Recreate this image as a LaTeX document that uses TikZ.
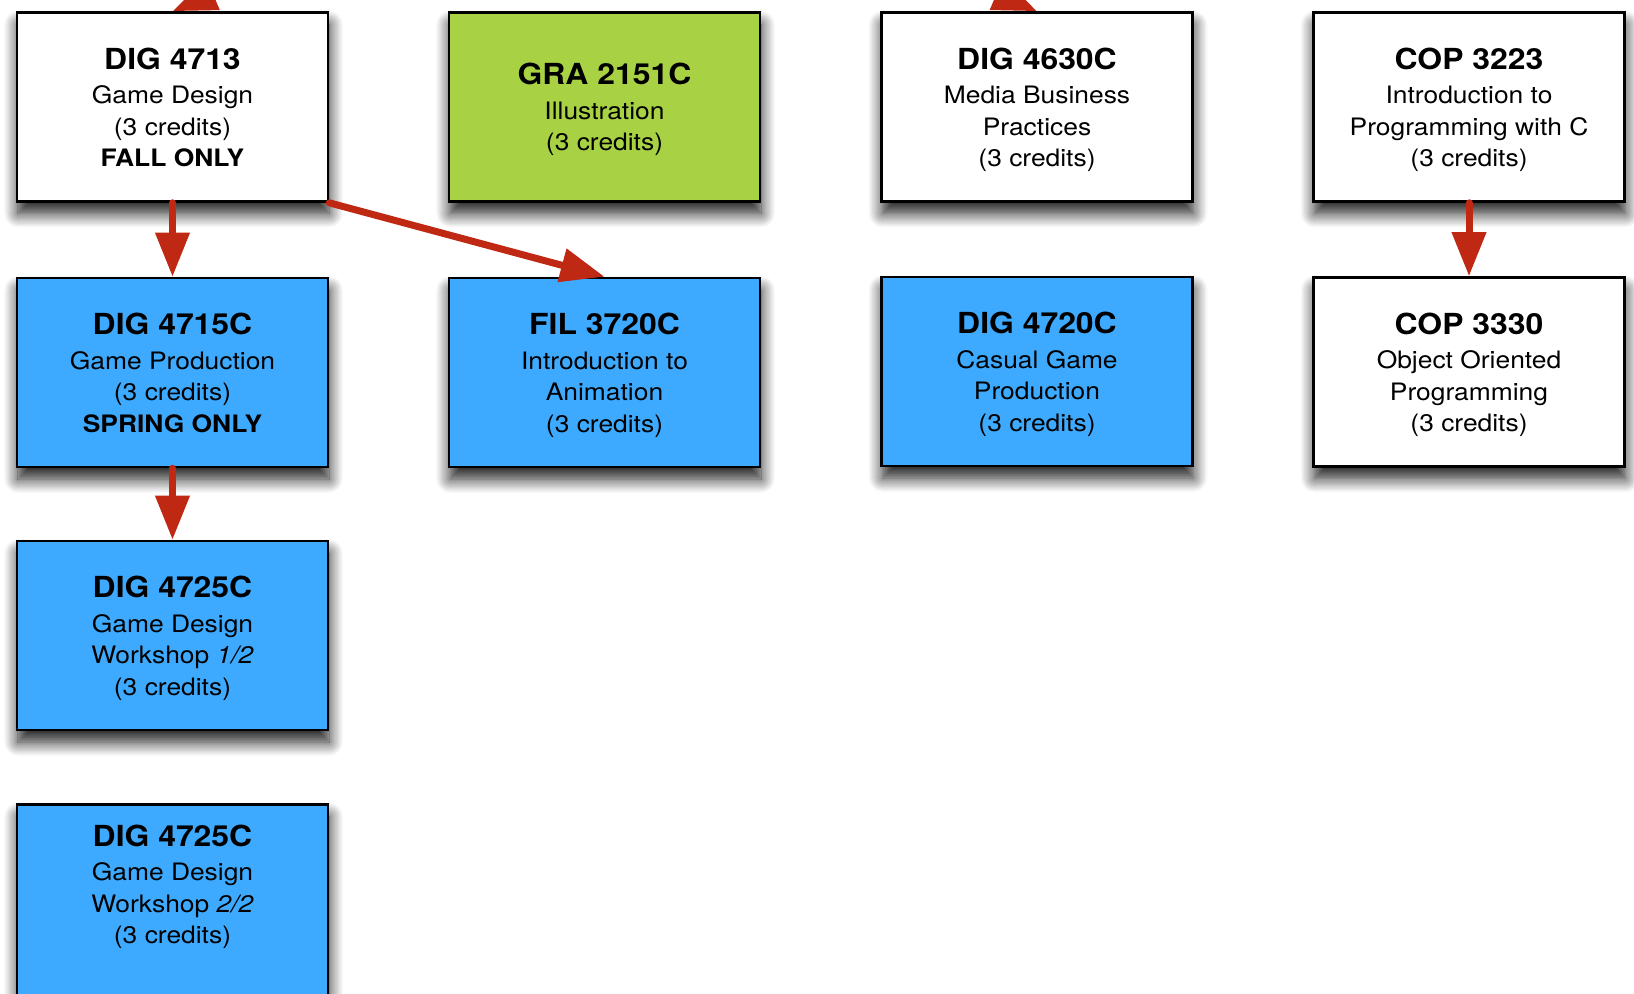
\documentclass[tikz,border=0pt]{standalone}
\usepackage{fontspec}
\setmainfont{TeX Gyre Heros}[FakeStretch=1.1]
\usetikzlibrary{arrows.meta,shadows.blur}

\definecolor{boxgreen}{RGB}{168,210,68}
\definecolor{boxblue}{RGB}{61,170,255}
\definecolor{arrowred}{RGB}{191,40,18}

% course code in bold, then the description lines
\newcommand\crs[2]{{\fontsize{14.5}{15.75}\selectfont\bfseries #1}\\[1.5pt]#2}

\tikzset{
  coursetext/.style={align=center, font=\fontsize{12}{15.75}\selectfont, text depth=0pt},
  course/.style={rectangle, draw=black, line width=1.3pt, fill=white,
    minimum width=155.5pt, minimum height=94.5pt, inner sep=0pt, coursetext,
    blur shadow={shadow xshift=0.5pt, shadow yshift=-6pt,
      shadow blur radius=7pt, shadow blur steps=12, shadow opacity=90}},
  prereq/.style={color=arrowred, line width=3.5pt, line cap=round,
    -{Triangle[width=16.5pt,length=22pt]}}
}

\begin{document}
\begin{tikzpicture}[x=0.5pt, y=-0.5pt]
\useasboundingbox (0,0) rectangle (1634,993);
\clip (0,0) rectangle (1634,993);

% first row
\node[course] (d4713) at (172.5,107)
  {\crs{DIG 4713}{Game Design\\(3 credits)\\\textbf{FALL ONLY}}};
\node[course, fill=boxgreen] (g2151) at (604.5,107)
  {\crs{GRA 2151C}{Illustration\\(3 credits)}};
\node[course] (d4630) at (1037,107)
  {\crs{DIG 4630C}{Media Business\\Practices\\(3 credits)}};
\node[course] (c3223) at (1469,107)
  {\crs{COP 3223}{Introduction to\\Programming with C\\(3 credits)}};

% second row
\node[course, fill=boxblue] (d4715) at (172.5,372.5)
  {\crs{DIG 4715C}{Game Production\\(3 credits)\\\textbf{SPRING ONLY}}};
\node[course, fill=boxblue] (f3720) at (604.5,372.5)
  {\crs{FIL 3720C}{Introduction to\\Animation\\(3 credits)}};
\node[course, fill=boxblue] (d4720) at (1037,371.5)
  {\crs{DIG 4720C}{Casual Game\\Production\\(3 credits)}};
\node[course] (c3330) at (1469,372)
  {\crs{COP 3330}{Object Oriented\\Programming\\(3 credits)}};

% workshop sequence
\node[course, fill=boxblue] (d4725a) at (172.5,635.5)
  {\crs{DIG 4725C}{Game Design\\Workshop \textit{1/2}\\(3 credits)}};
\node[course, fill=boxblue, anchor=north, minimum height=150pt] (d4725b) at (172.5,803) {};
\node[coursetext, inner sep=0pt] (d4725bt) at (172.5,884)
  {\crs{DIG 4725C}{Game Design\\Workshop \textit{2/2}\\(3 credits)}};

% prerequisites
\coordinate (fromA) at (574,-160);
\coordinate (fromB) at (637,-160);
\draw[prereq] (fromA) -- (d4713.north);
\draw[prereq] (fromB) -- (d4630.north);
\draw[prereq] (d4713.south) -- (d4715.north);
\draw[prereq] (d4713.south east) -- (f3720.north);
\draw[prereq] (d4715.south) -- (d4725a.north);
\draw[prereq] (c3223.south) -- (c3330.north);
\end{tikzpicture}
\end{document}
